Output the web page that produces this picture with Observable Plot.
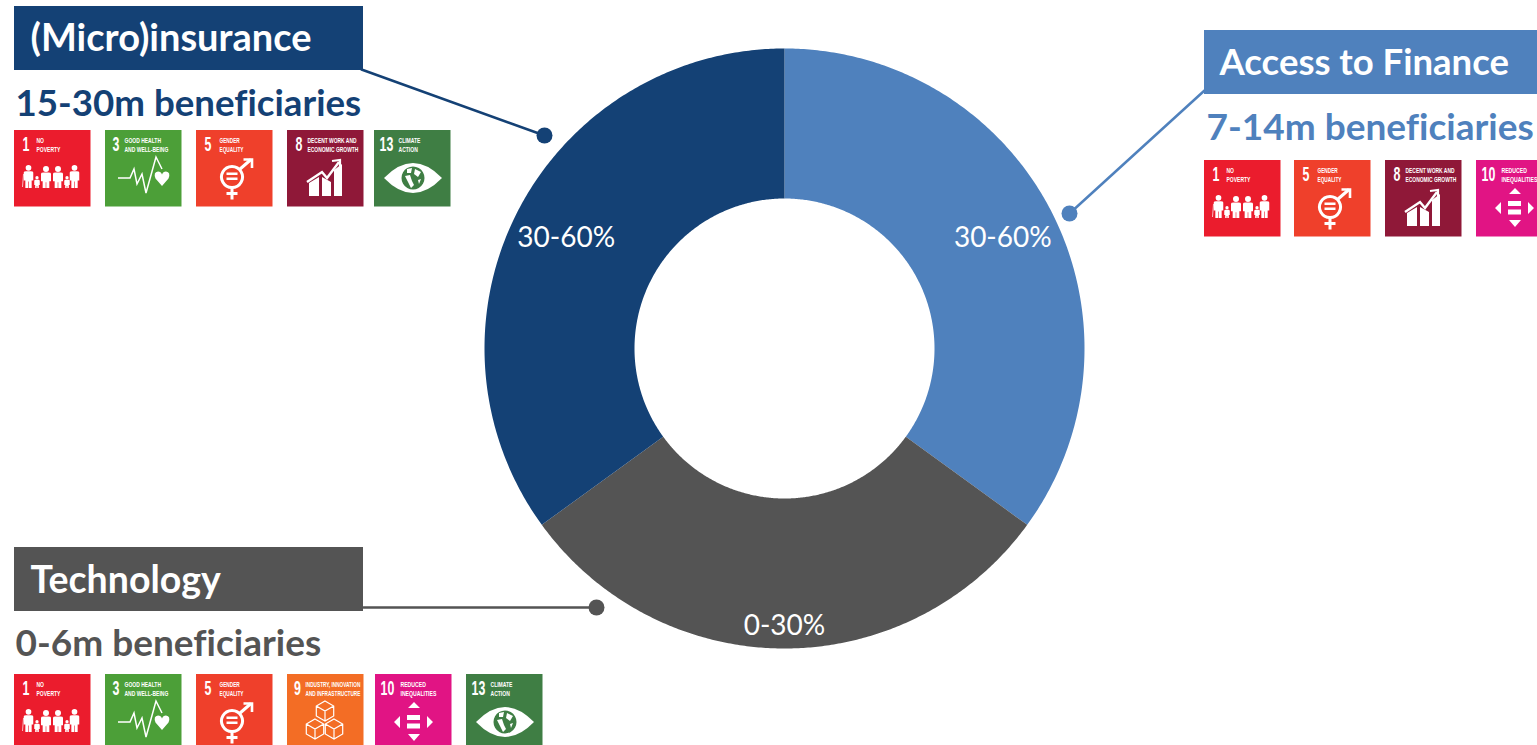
<!DOCTYPE html>
<html>
<head>
<meta charset="utf-8">
<title>Beneficiaries by sector</title>
<script src="https://cdn.jsdelivr.net/npm/d3@7"></script>
<script src="https://cdn.jsdelivr.net/npm/@observablehq/plot@0.6"></script>
<style>
  html, body { margin: 0; padding: 0; background: #fff; overflow: hidden; }
  svg { display: block; font-variant-ligatures: none; }
</style>
</head>
<body>
<div id="chart"></div>
<script>
// Sector data
const sectors = ["Access to Finance", "Technology", "(Micro)insurance"];
const shares = [35, 30, 35];
const shareLabels = ["30-60%", "0-30%", "30-60%"];
const beneficiaries = ["7-14m beneficiaries", "0-6m beneficiaries", "15-30m beneficiaries"];
const sectorGoals = [
  [1, 5, 8, 10],
  [1, 3, 5, 9, 10, 13],
  [1, 3, 5, 8, 13]
];
const sectorColors = ["#4f81bd", "#545454", "#144175"];

// Sustainable Development Goal tiles
const goalNumbers = [1, 3, 5, 8, 9, 10, 13];
const goalNames = [
  "NO\nPOVERTY",
  "GOOD HEALTH\nAND WELL-BEING",
  "GENDER\nEQUALITY",
  "DECENT WORK AND\nECONOMIC GROWTH",
  "INDUSTRY, INNOVATION\nAND INFRASTRUCTURE",
  "REDUCED\nINEQUALITIES",
  "CLIMATE\nACTION"
];
const goalColors = ["#eb1c2d", "#4c9f38", "#ef402b", "#8f1838", "#f36d25", "#e11484", "#3f7e44"];

// Page layout, in pixels
const W = 1537, H = 745;
const cx = 784, cy = 348, outerR = 300, innerR = 150;
const labelRadius = [245, 276.5, 245];
const layout = [
  {box: [1204, 1537, 30, 94], titleX: 1219, titleY: 63, titleSize: 36.5, subX: 1206, subY: 128, subSize: 37, tileY: 160,
   tileX: [1204, 1294, 1385, 1476], link: [[1204, 90], [1069, 213]]},
  {box: [14, 363, 547, 611], titleX: 30, titleY: 580.5, titleSize: 37.5, subX: 15, subY: 644, subSize: 37, tileY: 674,
   tileX: [14, 105, 196, 287, 375, 466], link: [[363, 607], [596, 607]]},
  {box: [14, 363, 6, 70], titleX: 30, titleY: 38.5, titleSize: 38, subX: 15, subY: 103.5, subSize: 36.7, tileY: 130,
   tileX: [14, 105, 196, 287, 374], link: [[361, 69], [544, 135]]}
];
const tileSize = 76.5;
// Text placement inside a tile: number start, caption start and caption width
const numberInset = {1: 8, 3: 7, 5: 8, 8: 8, 9: 6.5, 10: 5, 13: 5};
const captionInset = {1: 22, 3: 19, 5: 23, 8: 20, 9: 18, 10: 25, 13: 24};
const captionWidth = {1: 24, 3: 44, 5: 24, 8: 51, 9: 55, 10: 36, 13: 22};

// Ring outlines derived from the shares, starting at twelve o'clock
const arcs = d3.pie().sort(null).value(d => d)(shares);
const polar = (radius, angle) => ({
  x: cx + radius * Math.sin(angle),
  y: cy - radius * Math.cos(angle)
});
const ringPoints = arcs.flatMap((a, i) => {
  const n = 240, pts = [];
  for (let k = 0; k <= n; ++k) pts.push(polar(outerR, a.startAngle + (a.endAngle - a.startAngle) * k / n));
  for (let k = n; k >= 0; --k) pts.push(polar(innerR, a.startAngle + (a.endAngle - a.startAngle) * k / n));
  return pts.map(p => ({...p, sector: sectors[i]}));
});
const shareRows = arcs.map((a, i) => ({
  ...polar(labelRadius[i], (a.startAngle + a.endAngle) / 2),
  label: shareLabels[i]
}));

const headers = sectors.map((sector, i) => ({
  sector, x1: layout[i].box[0], x2: layout[i].box[1], y1: layout[i].box[2], y2: layout[i].box[3],
  titleX: layout[i].titleX, titleY: layout[i].titleY, titleSize: layout[i].titleSize,
  subX: layout[i].subX, subY: layout[i].subY, subSize: layout[i].subSize,
  sub: beneficiaries[i]
}));
const links = sectors.flatMap((sector, i) =>
  layout[i].link.map(([x, y]) => ({sector, x, y})));
const linkEnds = sectors.map((sector, i) => {
  const [x, y] = layout[i].link[1];
  return {sector, x, y};
});
const tiles = sectors.flatMap((sector, i) =>
  sectorGoals[i].map((goal, j) => {
    const g = goalNumbers.indexOf(goal);
    return {
      goal, name: goalNames[g], color: goalColors[g],
      x: layout[i].tileX[j], y: layout[i].tileY
    };
  }));

// Pictograms, in tile-local units
const WHITE = "#fff";
function cube(cxx, cyy, r) {
  const a = r * 0.87, b = r * 0.5;
  return `M${cxx} ${cyy - r}L${cxx + a} ${cyy - b}L${cxx + a} ${cyy + b}L${cxx} ${cyy + r}L${cxx - a} ${cyy + b}L${cxx - a} ${cyy - b}Z` +
    `M${cxx - a} ${cyy - b}L${cxx} ${cyy}L${cxx + a} ${cyy - b}M${cxx} ${cyy}L${cxx} ${cyy + r}`;
}
function person(px, top, bottom, w) {
  const h = w * 0.3;
  const sh = top + h * 2 + 0.5;
  const hip = (sh + bottom) / 2 + 1;
  return `M${px - h} ${top + h}a${h} ${h} 0 1 0 ${2 * h} 0a${h} ${h} 0 1 0 ${-2 * h} 0Z` +
    `M${px - w / 2} ${sh + 1.2}Q${px - w / 2} ${sh} ${px - w / 4} ${sh}L${px + w / 4} ${sh}Q${px + w / 2} ${sh} ${px + w / 2} ${sh + 1.2}` +
    `L${px + w / 2} ${hip}L${px + w / 3} ${hip}L${px + w / 3} ${bottom}L${px + 0.3} ${bottom}L${px + 0.3} ${hip + 1}` +
    `L${px - 0.3} ${hip + 1}L${px - 0.3} ${bottom}L${px - w / 3} ${bottom}L${px - w / 3} ${hip}L${px - w / 2} ${hip}Z`;
}
const glyphs = {
  1: [{fill: WHITE, d:
      person(14.5, 35, 58, 9.5) + person(23, 46, 58, 5.5) + person(32, 36, 58, 10) +
      person(44, 36, 58, 10) + person(53, 46, 58, 5.5) + person(60.5, 35, 58, 9.5)},
      {stroke: WHITE, width: 0.7, d: "M9.5 44L8.5 57"}],
  3: [{stroke: WHITE, width: 1.5, d: "M13 48L25 48L29 39L32 54L37 44L41 63L51 27L57 39"},
      {fill: WHITE, d: "M57 56L50.5 48.5Q48 42 53 41.5Q56 41.5 57 44.5Q58 41.5 61 41.5Q66 42 63.5 48.5Z"}],
  5: [{stroke: WHITE, width: 3, d: "M36 36.5a10.5 10.5 0 1 0 0.01 0Z"},
      {stroke: WHITE, width: 3, d: "M36 57.5L36 69.5M30.5 63.5L41.5 63.5M43.5 39.5L55 29.5"},
      {stroke: WHITE, width: 2.6, d: "M47.5 29.5L56 29.5L56 38"},
      {fill: WHITE, d: "M30.5 42.5h11v2.4h-11ZM30.5 47.5h11v2.4h-11Z"}],
  8: [{fill: WHITE, d: "M22 53L32 47L32 66L22 66ZM35 47L44 52L44 66L35 66ZM47 40L55 34L55 66L47 66Z"},
      {stroke: WHITE, width: 2.4, d: "M20 52L35 42L40 48L52 32"},
      {stroke: WHITE, width: 2.2, d: "M45 31L53 30L53 38"}],
  9: [{stroke: WHITE, width: 1.2, d: cube(38, 37, 10) + cube(28, 55, 10) + cube(47, 55, 10)}],
  10: [{fill: WHITE, d:
      "M39 28L45 34L33 34ZM39 67L33 60L45 60ZM19 48L25 42L25 54ZM58 48L52 42L52 54Z" +
      "M32 41h13v5h-13ZM32 49.5h13v5h-13Z"}],
  13: [{fill: WHITE, d: "M10 48Q39 18 68 48Q39 78 10 48Z"},
       {fill: "#3f7e44", d: "M39 36.5a11.5 11.5 0 1 0 0.01 0Z"},
       {fill: WHITE, d: "M33 39L38 38L37 43L33 43ZM41 39L47 42L44 47L40 44ZM31 46L36 45L38 51L40 55L37 58L34 52ZM44 50L47 49L45 54Z"}]
};

// Draws each tile's pictogram through the page scales
function pictograms(index, {x, y}) {
  const root = d3.create("svg:g").attr("class", "pictograms");
  for (const t of tiles) {
    const g = root.append("g").attr("transform", `translate(${x(t.x)},${y(t.y)})`);
    for (const part of glyphs[t.goal]) {
      g.append("path")
        .attr("d", part.d)
        .attr("fill", part.fill || "none")
        .attr("stroke", part.stroke || "none")
        .attr("stroke-width", part.width || null);
    }
  }
  return root.node();
}

const headingFont = "Lato, 'Open Sans', sans-serif";
const tileFont = "'Liberation Sans', sans-serif";

const chart = Plot.plot({
  width: W,
  height: H,
  margin: 0,
  style: {background: "#fff"},
  x: {domain: [0, W], range: [0, W], axis: null},
  y: {domain: [0, H], range: [0, H], axis: null},
  color: {domain: sectors, range: sectorColors},
  marks: [
    // Donut ring
    Plot.line(ringPoints, {
      x: "x", y: "y", z: "sector",
      fill: d => d.sector, stroke: null, curve: "linear-closed"
    }),
    Plot.text(shareRows, {
      x: "x", y: "y", dy: 1, text: "label", fill: "#fff",
      fontFamily: headingFont, fontSize: 28
    }),
    // Leader lines and their end dots
    Plot.line(links, {x: "x", y: "y", z: "sector", stroke: d => d.sector, strokeWidth: 2.5}),
    Plot.dot(linkEnds, {x: "x", y: "y", r: 8, fill: d => d.sector, stroke: null}),
    // Header boxes with sector names and beneficiary counts
    Plot.rect(headers, {x1: "x1", x2: "x2", y1: "y1", y2: "y2", fill: d => d.sector}),
    Plot.text(headers, {
      x: "titleX", y: "titleY", text: "sector", fill: "#fff", textAnchor: "start",
      fontFamily: headingFont, fontWeight: 700, fontSize: d => d.titleSize
    }),
    Plot.text(headers, {
      x: "subX", y: "subY", text: "sub", fill: d => d.sector, textAnchor: "start",
      fontFamily: headingFont, fontWeight: 700, fontSize: d => d.subSize
    }),
    // Goal tiles
    Plot.rect(tiles, {
      x1: "x", x2: d => d.x + tileSize, y1: "y", y2: d => d.y + tileSize,
      fill: "color"
    }),
    Plot.text(tiles, {
      x: d => d.x + numberInset[d.goal], y: d => d.y + 14.5, text: d => String(d.goal), fill: "#fff",
      textAnchor: "start", fontFamily: tileFont, fontWeight: 700, fontSize: 20, className: "tile-number"
    }),
    Plot.text(tiles, {
      x: d => d.x + captionInset[d.goal], y: d => d.y + 14.5, text: "name", fill: "#fff",
      textAnchor: "start", fontFamily: tileFont, fontWeight: 700, fontSize: 7.5, lineHeight: 1.2, className: "tile-caption"
    }),
    pictograms
  ]
});
document.getElementById("chart").append(chart);

// The tile lettering is condensed; no narrow face is available, so it is squeezed horizontally.
const squeeze = (node, sx) =>
  node.setAttribute("transform", `${node.getAttribute("transform")} scale(${sx},1)`);
d3.selectAll(".tile-number text").each(function () { squeeze(this, 0.62); });
d3.selectAll(".tile-caption text").each(function (_, i) {
  squeeze(this, captionWidth[tiles[i].goal] / this.getBBox().width);
});
</script>
</body>
</html>
